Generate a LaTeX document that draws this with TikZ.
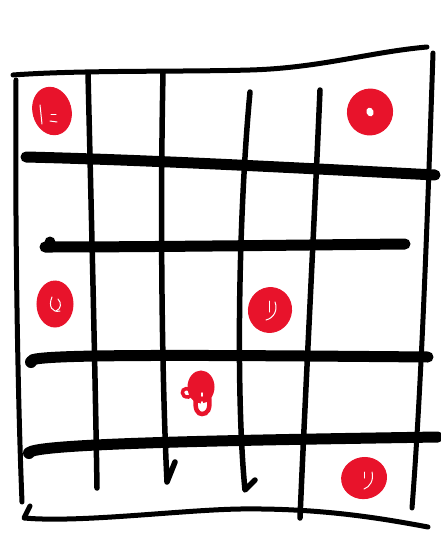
\documentclass[tikz,border=0pt]{standalone}
\usepackage{xcolor}
\usepackage{tikz}
\definecolor{inkc}{RGB}{0,0,0}
\definecolor{dotred}{RGB}{232,19,43}
\tikzset{
  frame/.style     = {draw=inkc, line width=5pt, line cap=round, line join=round},
  stringline/.style= {draw=inkc, line width=5.5pt, line cap=round, line join=round},
  fret/.style      = {draw=inkc, line width=11pt, line cap=round},
  fingerdot/.style = {fill=dotred, draw=dotred, line width=1pt},
  shine/.style     = {draw=white, line width=1pt, line cap=round},
}
\begin{document}
\begin{tikzpicture}[x=1pt, y=-1pt]
\useasboundingbox (0,0) rectangle (440,549);

% outer frame, y runs downwards like the sketch
\draw[frame] (13,75) .. controls (80,70) and (180,72) .. (250,70)
  .. controls (320,68) and (370,52) .. (427,47);
\draw[frame] (16,80) .. controls (15,200) and (17,380) .. (22,502);
\draw[frame] (433,53) .. controls (428,200) and (422,380) .. (412,508);
\draw[frame] (30,506) -- (24,518) .. controls (80,523) and (180,510) .. (240,509)
  .. controls (320,508) and (380,518) .. (428,527);

% strings
\draw[stringline] (88,73) .. controls (91,200) and (95,360) .. (97,488);
\draw[stringline] (163,73) .. controls (160,220) and (162,380) .. (167,482) -- (175,462);
\draw[stringline] (250,92) .. controls (238,220) and (236,400) .. (245,490) -- (255,480);
\draw[stringline] (320,90) .. controls (313,250) and (305,400) .. (300,518);

% frets
\draw[fret] (26,157) .. controls (150,160) and (300,168) .. (435,175);
\draw[fret] (45,247) .. controls (150,247) and (300,245) .. (405,244);
\fill (50,242) circle (5.5pt);
\draw[fret] (32,360) .. controls (45,354) and (200,355) .. (428,357);
\fill (31,362) circle (6pt);
\draw[fret] (30,452) .. controls (45,443) and (250,440) .. (438,437);
\fill (29,453) circle (6pt);

% finger dots
\coordinate (d1) at (52,111);
\coordinate (d2) at (370,112);
\coordinate (d3) at (55,304);
\coordinate (d4) at (270,310);
\coordinate (d5) at (364,478);
\coordinate (d6) at (201,387);

\filldraw[fingerdot, rotate around={15:(d1)}] (d1) ellipse (19pt and 24pt);
\draw[shine] (40,105) -- (42,124);
\draw[shine] (51,114) -- (56,114);
\draw[shine] (50,121) -- (57,122);

\filldraw[fingerdot, rotate around={-20:(d2)}] (d2) ellipse (22.5pt and 23pt);
\fill[white, rotate around={20:(d2)}] (d2) ellipse (3.5pt and 4.5pt);

\filldraw[fingerdot] (d3) ellipse (18pt and 23pt);
\draw[shine] (52,297) .. controls (48,306) and (52,313) .. (60,311);
\draw[shine] (58,299) .. controls (62,303) and (61,309) .. (56,311);

\filldraw[fingerdot, rotate around={-15:(d4)}] (d4) ellipse (21.5pt and 22.5pt);
\draw[shine] (269,301) -- (269,312);
\draw[shine] (275,302) .. controls (278,310) and (274,318) .. (266,320);

\filldraw[fingerdot, rotate around={10:(d5)}] (d5) ellipse (22.5pt and 20.5pt);
\draw[shine] (364,472) -- (364,478);
\draw[shine] (372,472) .. controls (374,480) and (370,487) .. (364,489);

% odd dot with a tail
\filldraw[fingerdot] (d6) ellipse (13pt and 16pt);
\draw[dotred, line width=4.5pt] (196,396) .. controls (194,410) and (198,414) .. (202,414)
  .. controls (207,414) and (211,410) .. (209,396);
\draw[dotred, line width=3.5pt, line cap=round] (190,390) .. controls (184,386) and (180,392) .. (184,396)
  .. controls (187,398) and (190,397) .. (192,395);
\draw[white, line width=2pt, line cap=round] (202,402) -- (202,408);
\draw[white, line width=1.5pt, line cap=round] (202,393) -- (202,396);
\end{tikzpicture}
\end{document}
